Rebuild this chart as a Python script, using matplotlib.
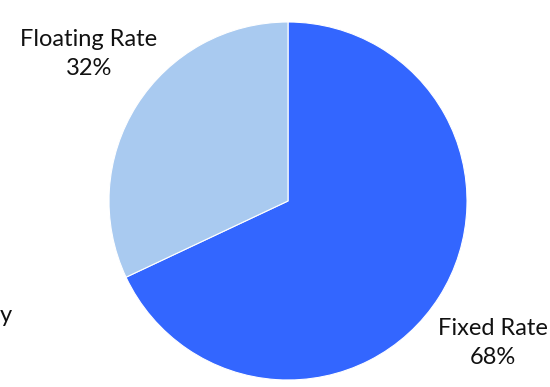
import matplotlib
matplotlib.use('Agg')
import matplotlib.pyplot as plt

# rate mix
categories = ['Fixed Rate', 'Floating Rate']
shares = [68, 32]
colors = ['#3366ff', '#a9caf0']

plt.rcParams['font.family'] = ['Lato', 'DejaVu Sans']

W, H = 550, 387
fig = plt.figure(figsize=(W / 100, H / 100), dpi=100)

# pie occupies a square region in pixels
cx, cy, r = 288, 201, 179
ax = fig.add_axes([(cx - r) / W, (H - cy - r) / H, 2 * r / W, 2 * r / H])
ax.pie(shares, colors=colors, startangle=90, counterclock=False,
       wedgeprops=dict(edgecolor='white', linewidth=0.8))
ax.set_aspect('equal')
ax.set_xlim(-1, 1)
ax.set_ylim(-1, 1)

txt = dict(ha='center', va='center', fontsize=17, color='#111111',
           linespacing=1.45)
fig.text(89 / W, 1 - 54 / H, '%s\n%d%%' % (categories[1], shares[1]), **txt)
fig.text(493 / W, 1 - 343 / H, '%s\n%d%%' % (categories[0], shares[0]), **txt)
fig.text(0, 1 - 316 / H, 'y', ha='left', va='center', fontsize=17,
         color='#111111')

fig.savefig('out.png', dpi=100)
